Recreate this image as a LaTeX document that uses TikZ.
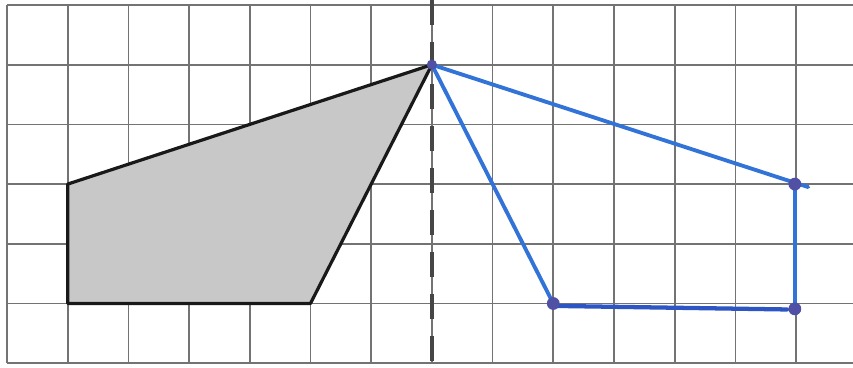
\documentclass[tikz,border=0pt]{standalone}
\usetikzlibrary{calc}
\definecolor{gridc}{RGB}{115,115,115}
\definecolor{fillc}{RGB}{200,200,200}
\definecolor{outl}{RGB}{25,25,25}
\definecolor{blueA}{RGB}{50,115,215}
\definecolor{blueB}{RGB}{45,85,195}
\definecolor{dotc}{RGB}{80,80,165}
\definecolor{axisc}{RGB}{70,70,70}
\tikzset{
  gridline/.style={draw=gridc, line width=0.8pt},
  shapeline/.style={draw=outl, line width=1.5pt, line join=round},
  blueline/.style={draw=blueA, line width=1.8pt, line cap=round},
  bluedark/.style={draw=blueB, line width=2pt, line cap=round},
  vdot/.style={fill=dotc},
  axisline/.style={draw=axisc, line width=1.9pt, dash pattern=on 11.8pt off 7.9pt},
}
\begin{document}
\begin{tikzpicture}[x=1cm, y=0.9835cm]
\useasboundingbox (-0.115,-0.067) rectangle (13.938,6.084);
\fill[white] (-0.115,-0.067) rectangle (13.938,6.084);
% grid
\foreach \i in {0,...,13} \draw[gridline] (\i,0) -- (\i,6);
\foreach \j in {0,...,6} \draw[gridline] (0,\j) -- (13.938,\j);
% named vertices
\coordinate (A) at (1,1);
\coordinate (B) at (1,3);
\coordinate (T) at (7,5);
\coordinate (C) at (5,1);
\coordinate (P) at (9,1);
\coordinate (Q) at (12.98,0.91);
\coordinate (R) at (12.98,3.0);
\coordinate (Rx) at (13.2,2.95);
\coordinate (Pe) at (12.85,0.90);
\coordinate (Pb) at (9,0.96);
\coordinate (axT) at (7,6.084);
\coordinate (axB) at (7,-0.067);
% grey figure
\filldraw[fill=fillc, shapeline] (A) -- (B) -- (T) -- (C) -- cycle;
% axis of symmetry
\draw[axisline] (axT) -- (axB);
% blue image
\draw[blueline] (T) -- (Rx);
\draw[blueline] (T) -- (P);
\draw[blueline] (R) -- (Q);
\draw[bluedark] (Pb) -- (Pe);
% dots
\fill[vdot] (T) circle (2.4pt);
\fill[vdot] (P) circle (3pt);
\fill[vdot] (Q) circle (3pt);
\fill[vdot] (R) circle (3pt);
\end{tikzpicture}
\end{document}
